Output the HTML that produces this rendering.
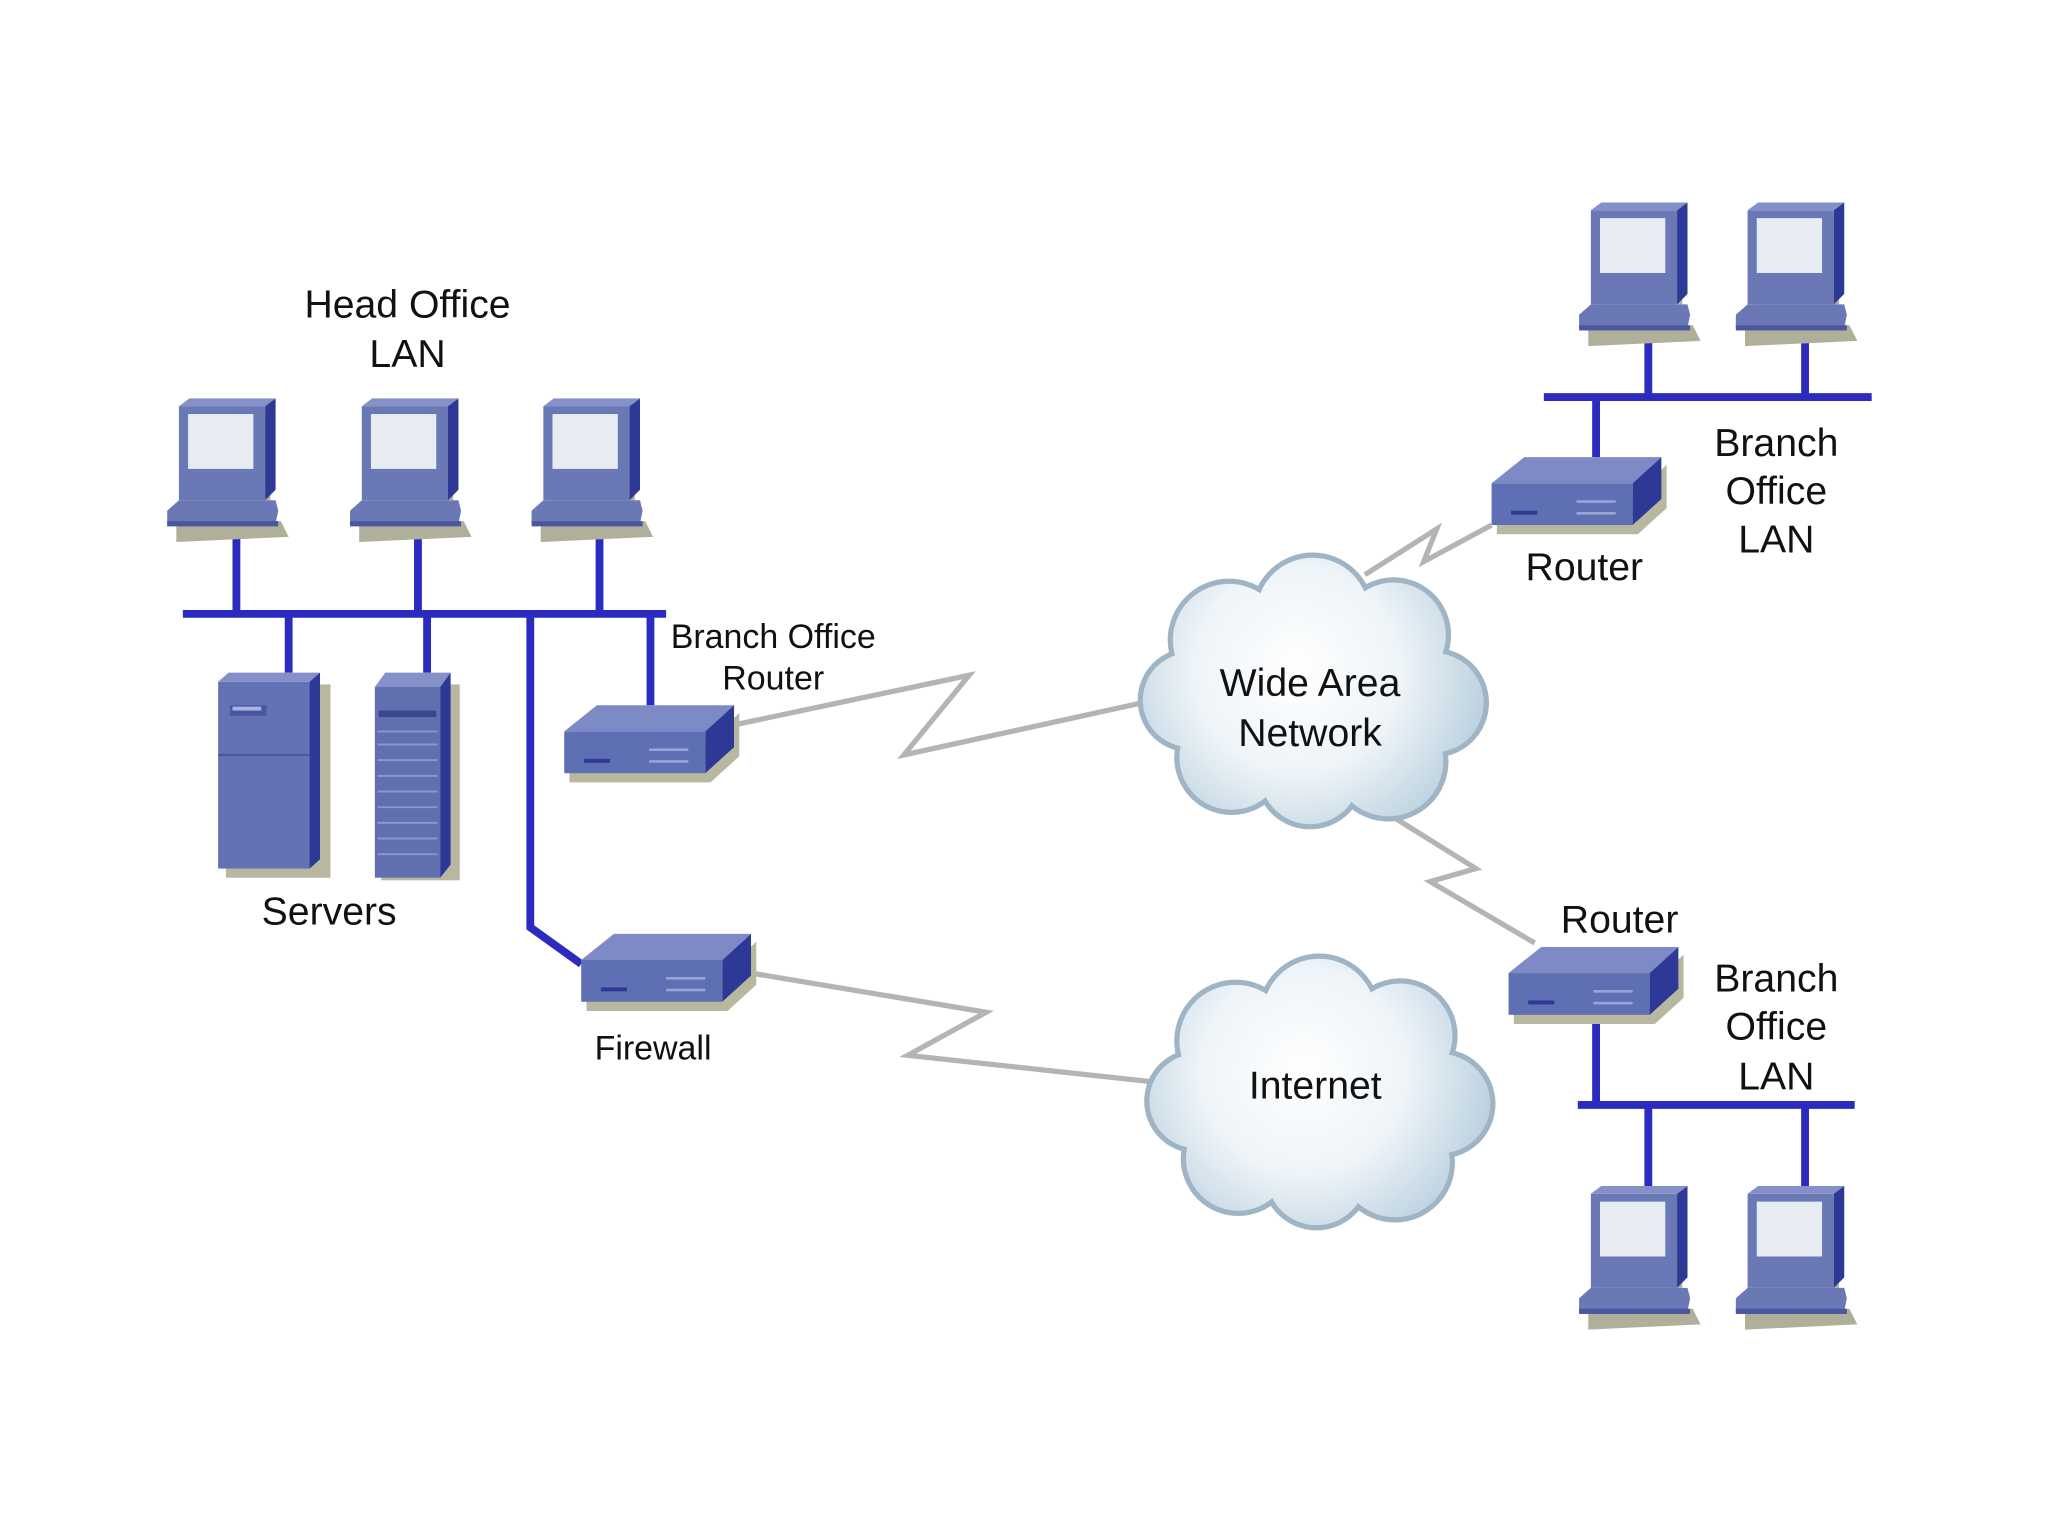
<!DOCTYPE html>
<html><head><meta charset="utf-8"><style>
html,body{margin:0;padding:0;background:#fff;}
svg{display:block;}
text{font-family:"Liberation Sans",sans-serif;fill:#111;text-anchor:middle;}
</style></head><body>
<svg width="2048" height="1536" viewBox="0 0 1568 1176" xmlns="http://www.w3.org/2000/svg">
<defs>
<radialGradient id="cg" gradientUnits="userSpaceOnUse" cx="-10" cy="-15" r="145">
<stop offset="0" stop-color="#ffffff"/><stop offset="0.55" stop-color="#eef4f8"/><stop offset="1" stop-color="#bcd2e0"/>
</radialGradient>
<g id="pc">
<polygon points="-6,88 74,88 80,100 -6,104" fill="#b0b09a" transform="translate(4,6)"/>
<rect x="6" y="8" width="64" height="70" fill="#b0b09a"/>
<polygon points="0,6 8,0 74,0 66,6" fill="#8590c8"/>
<polygon points="66,6 74,0 74,70 66,78" fill="#2e3996"/>
<rect x="0" y="6" width="66" height="72" fill="#6a79b6"/>
<rect x="7" y="12" width="50" height="42" fill="#e6ecf2"/>
<polygon points="-9,86 0,78 74,78 76,86 74,96 -9,96" fill="#6a79b6"/>
<rect x="-9" y="94" width="85" height="4" fill="#4a56a0"/>
</g>
<g id="rt">
<polygon points="4,31 112,31 134,11 134,44 112,64 4,64" fill="#b8b8a0"/>
<polygon points="0,25 25,5 130,5 108,25" fill="#7e8ac6"/>
<polygon points="108,25 130,5 130,37 108,57" fill="#2e3996"/>
<rect x="0" y="25" width="108" height="32" fill="#5f6fb4"/>
<rect x="15" y="46" width="20" height="3" fill="#2e3996"/>
<rect x="65" y="38" width="30" height="2" fill="#9aa4d8"/>
<rect x="65" y="47" width="30" height="2" fill="#9aa4d8"/>
</g>
<g id="cl">
<g fill="#9fb4c4">
<circle cx="-62" cy="-38" r="47"/><circle cx="2" cy="-58" r="47"/><circle cx="64" cy="-42" r="44"/>
<circle cx="95" cy="10" r="42"/><circle cx="60" cy="55" r="46"/><circle cx="0" cy="65" r="42"/>
<circle cx="-60" cy="52" r="44"/><circle cx="-92" cy="8" r="40"/><circle cx="0" cy="0" r="75"/>
</g>
<g fill="url(#cg)">
<circle cx="-62" cy="-38" r="43"/><circle cx="2" cy="-58" r="43"/><circle cx="64" cy="-42" r="40"/>
<circle cx="95" cy="10" r="38"/><circle cx="60" cy="55" r="42"/><circle cx="0" cy="65" r="38"/>
<circle cx="-60" cy="52" r="40"/><circle cx="-92" cy="8" r="36"/><circle cx="0" cy="0" r="75"/>
</g>
</g>
</defs>

<g fill="none" stroke="#b4b4b4" stroke-width="4" stroke-linejoin="miter">
<polyline points="562,555 742,517 692,578 875,538"/>
<polyline points="1045,440 1100,405 1090,430 1142,402"/>
<polyline points="1045,612 1130,665 1095,675 1175,722"/>
<polyline points="575,745 755,775 695,808 880,828"/>
</g>

<use href="#cl" x="1003" y="528"/>
<use href="#cl" x="1008" y="835"/>

<g stroke="#2b2bc0" stroke-width="6" fill="none">
<line x1="140" y1="470" x2="510" y2="470"/>
<line x1="181" y1="410" x2="181" y2="470"/>
<line x1="320" y1="410" x2="320" y2="470"/>
<line x1="459" y1="410" x2="459" y2="470"/>
<line x1="221" y1="470" x2="221" y2="515"/>
<line x1="327" y1="470" x2="327" y2="515"/>
<polyline points="406,470 406,710 445,738"/>
<line x1="498" y1="470" x2="498" y2="540"/>
<line x1="1182" y1="304" x2="1433" y2="304"/>
<line x1="1262" y1="262" x2="1262" y2="304"/>
<line x1="1382" y1="262" x2="1382" y2="304"/>
<line x1="1222" y1="304" x2="1222" y2="350"/>
<line x1="1208" y1="846" x2="1420" y2="846"/>
<line x1="1262" y1="846" x2="1262" y2="908"/>
<line x1="1382" y1="846" x2="1382" y2="908"/>
<line x1="1222" y1="780" x2="1222" y2="846"/>
</g>

<use href="#pc" x="137" y="305"/>
<use href="#pc" x="277" y="305"/>
<use href="#pc" x="416" y="305"/>
<use href="#pc" x="1218" y="155"/>
<use href="#pc" x="1338" y="155"/>
<use href="#pc" x="1218" y="908"/>
<use href="#pc" x="1338" y="908"/>

<rect x="173" y="524" width="80" height="148" fill="#b8b8a0"/>
<polygon points="167,522 175,515 245,515 237,522" fill="#8590c8"/>
<polygon points="237,522 245,515 245,658 237,665" fill="#2e3996"/>
<rect x="167" y="522" width="70" height="143" fill="#6272b4"/>
<rect x="176" y="540" width="28" height="8" fill="#4a56a0"/>
<rect x="178" y="541" width="22" height="3" fill="#aab4e0"/>
<line x1="167" y1="578" x2="237" y2="578" stroke="#4a56a0" stroke-width="1.5"/>
<rect x="292" y="524" width="60" height="150" fill="#b8b8a0"/>
<polygon points="287,526 295,515 345,515 337,526" fill="#8590c8"/>
<polygon points="337,526 345,515 345,662 337,672" fill="#2e3996"/>
<rect x="287" y="526" width="50" height="146" fill="#5f6fb0"/>
<rect x="290" y="544" width="44" height="5" fill="#3a4690"/>
<g stroke="#8a96cc" stroke-width="1.5">
<line x1="289" y1="560" x2="335" y2="560"/><line x1="289" y1="570" x2="335" y2="570"/>
<line x1="289" y1="582" x2="335" y2="582"/><line x1="289" y1="594" x2="335" y2="594"/>
<line x1="289" y1="606" x2="335" y2="606"/><line x1="289" y1="618" x2="335" y2="618"/>
<line x1="289" y1="630" x2="335" y2="630"/><line x1="289" y1="642" x2="335" y2="642"/>
<line x1="289" y1="654" x2="335" y2="654"/>
</g>

<use href="#rt" x="432" y="535"/>
<use href="#rt" x="445" y="710"/>
<use href="#rt" x="1142" y="345"/>
<use href="#rt" x="1155" y="720"/>

<g font-size="30">
<text x="312" y="243">Head Office</text>
<text x="312" y="281">LAN</text>
<text x="252" y="708">Servers</text>
<text x="1003" y="533">Wide Area</text>
<text x="1003" y="571">Network</text>
<text x="1007" y="841">Internet</text>
<text x="1213" y="444">Router</text>
<text x="1360" y="349">Branch</text>
<text x="1360" y="386">Office</text>
<text x="1360" y="423">LAN</text>
<text x="1240" y="714">Router</text>
<text x="1360" y="759">Branch</text>
<text x="1360" y="796">Office</text>
<text x="1360" y="834">LAN</text>
</g>
<g font-size="26">
<text x="592" y="496">Branch Office</text>
<text x="592" y="528">Router</text>
<text x="500" y="811">Firewall</text>
</g>
</svg>
</body></html>
